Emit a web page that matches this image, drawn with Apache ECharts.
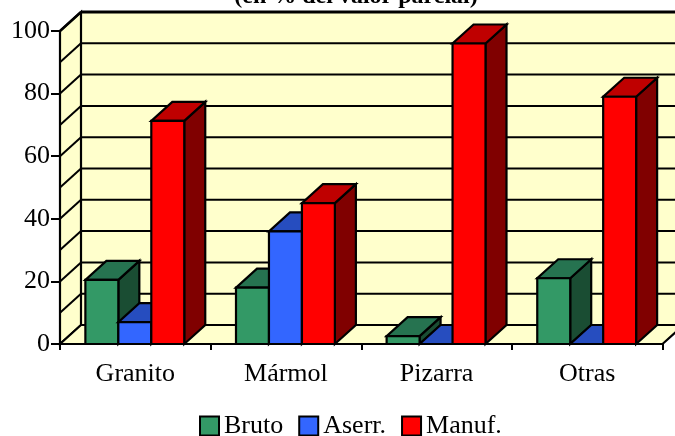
<!DOCTYPE html>
<html><head><meta charset="utf-8">
<style>html,body{margin:0;padding:0;background:#fff}#c{width:675px;height:436px}</style>
<script src="https://cdn.jsdelivr.net/npm/echarts@6/dist/echarts.min.js"></script>
</head><body><div id="c"></div>
<script>
const categories = ['Granito','Mármol','Pizarra','Otras'];
const bruto = [20.5, 18, 2.5, 21];
const aserr = [7, 36, 0, 0];
const manuf = [71.3, 45, 96, 79];
const gridValues = [0,10,20,30,40,50,60,70,80,90,100];
const titleText = '(en % del valor parcial)';

const DX = 21, DY = -19;
const FONT = '"Liberation Serif","Times New Roman",serif';
const WALL = '#FFFFCC';
const palette = [
  {front:'#339966', top:'#267350', side:'#1A4D33'},
  {front:'#3366FF', top:'#264DBF', side:'#1A3380'},
  {front:'#FF0000', top:'#BF0000', side:'#800000'}
];
const lineStyle = {stroke:'#000', lineWidth:2.2, lineJoin:'miter'};

function poly(points, fill){
  return {type:'polygon', shape:{points}, style:Object.assign({fill}, lineStyle)};
}
function line(x1,y1,x2,y2,w){
  return {type:'line', shape:{x1,y1,x2,y2}, style:{stroke:'#000', lineWidth:w||2}};
}
function barRender(idx){
  const col = palette[idx];
  return function(params, api){
    const cat = api.value(0), v = api.value(1);
    const base = api.coord([cat,0]), topP = api.coord([cat,v]);
    const cw = api.size([1,0])[0];
    const bw = cw/4.57;
    const x0 = base[0] - 0.5 - 1.5*bw + idx*bw, x1 = x0 + bw;
    const yb = base[1], yt = topP[1];
    return {type:'group', children:[
      poly([[x1,yb],[x1+DX,yb+DY],[x1+DX,yt+DY],[x1,yt]], col.side),
      poly([[x0,yt],[x1,yt],[x1+DX,yt+DY],[x0+DX,yt+DY]], col.top),
      poly([[x0,yb],[x1,yb],[x1,yt],[x0,yt]], col.front)
    ]};
  };
}
function wallRender(params, api){
  const v = api.value(0);
  const rect = params.coordSys;
  const p = api.coord([0,v]);
  const xL = rect.x, xR = rect.x + rect.width, y = p[1];
  const base = api.coord([0,0])[1], top = api.coord([0,100])[1];
  const ch = [];
  if (v === 0){
    ch.push({type:'polygon', shape:{points:[[xL+DX,top+DY],[xR+DX,top+DY],[xR+DX,base+DY],[xL+DX,base+DY]]}, style:{fill:WALL}});
    ch.push(poly([[xL,top],[xL+DX,top+DY],[xL+DX,base+DY],[xL,base]], WALL));
    ch.push(poly([[xL,base],[xL+DX,base+DY],[xR+DX,base+DY],[xR,base]], WALL));
  } else {
    ch.push(line(xL,y,xL+DX,y+DY, v===100?2.5:2));
    ch.push(line(xL+DX,y+DY,xR+DX,y+DY, v===100?3:2));
  }
  return {type:'group', children:ch};
}
function pairs(a){ return a.map((v,i)=>[i,v]); }

const chart = echarts.init(document.getElementById('c'), null, {renderer:'canvas'});
chart.setOption({
  animation:false,
  backgroundColor:'#fff',
  title:{text:titleText, left:351, textAlign:'center', top:-20,
    textStyle:{fontFamily:FONT, fontSize:24, fontWeight:'bold', color:'#000'}},
  grid:{left:60, right:12.5, top:31, bottom:92, containLabel:false},
  xAxis:{type:'category', data:categories, z:5,
    axisLine:{show:true, onZero:false, lineStyle:{color:'#000',width:2}},
    axisTick:{show:true, alignWithLabel:false, length:6, lineStyle:{color:'#000',width:2}},
    axisLabel:{color:'#000', fontFamily:FONT, fontSize:26, margin:17},
    splitLine:{show:false}},
  yAxis:{type:'value', min:0, max:100, interval:20, z:5,
    axisLine:{show:true, lineStyle:{color:'#000',width:2}},
    axisTick:{show:true, length:9, lineStyle:{color:'#000',width:2}},
    axisLabel:{color:'#000', fontFamily:FONT, fontSize:26, margin:10},
    splitLine:{show:false}},
  legend:{data:['Bruto','Aserr.','Manuf.'], left:199, top:413, padding:0, itemWidth:19, itemHeight:19, itemGap:15,
    icon:'rect', textStyle:{color:'#000', fontFamily:FONT, fontSize:26}},
  series:[
    {type:'custom', name:'walls', renderItem:wallRender, clip:false, z:1, silent:true,
      encode:{y:0}, data:gridValues.map(v=>[v])},
    ...[['Bruto',bruto],['Aserr.',aserr],['Manuf.',manuf]].map(([name,vals],i)=>({
      type:'custom', name, renderItem:barRender(i), clip:false, z:2+i,
      encode:{x:0,y:1}, data:pairs(vals),
      itemStyle:{color:palette[i].front, borderColor:'#000', borderWidth:2}
    }))
  ]
});
</script></body></html>
